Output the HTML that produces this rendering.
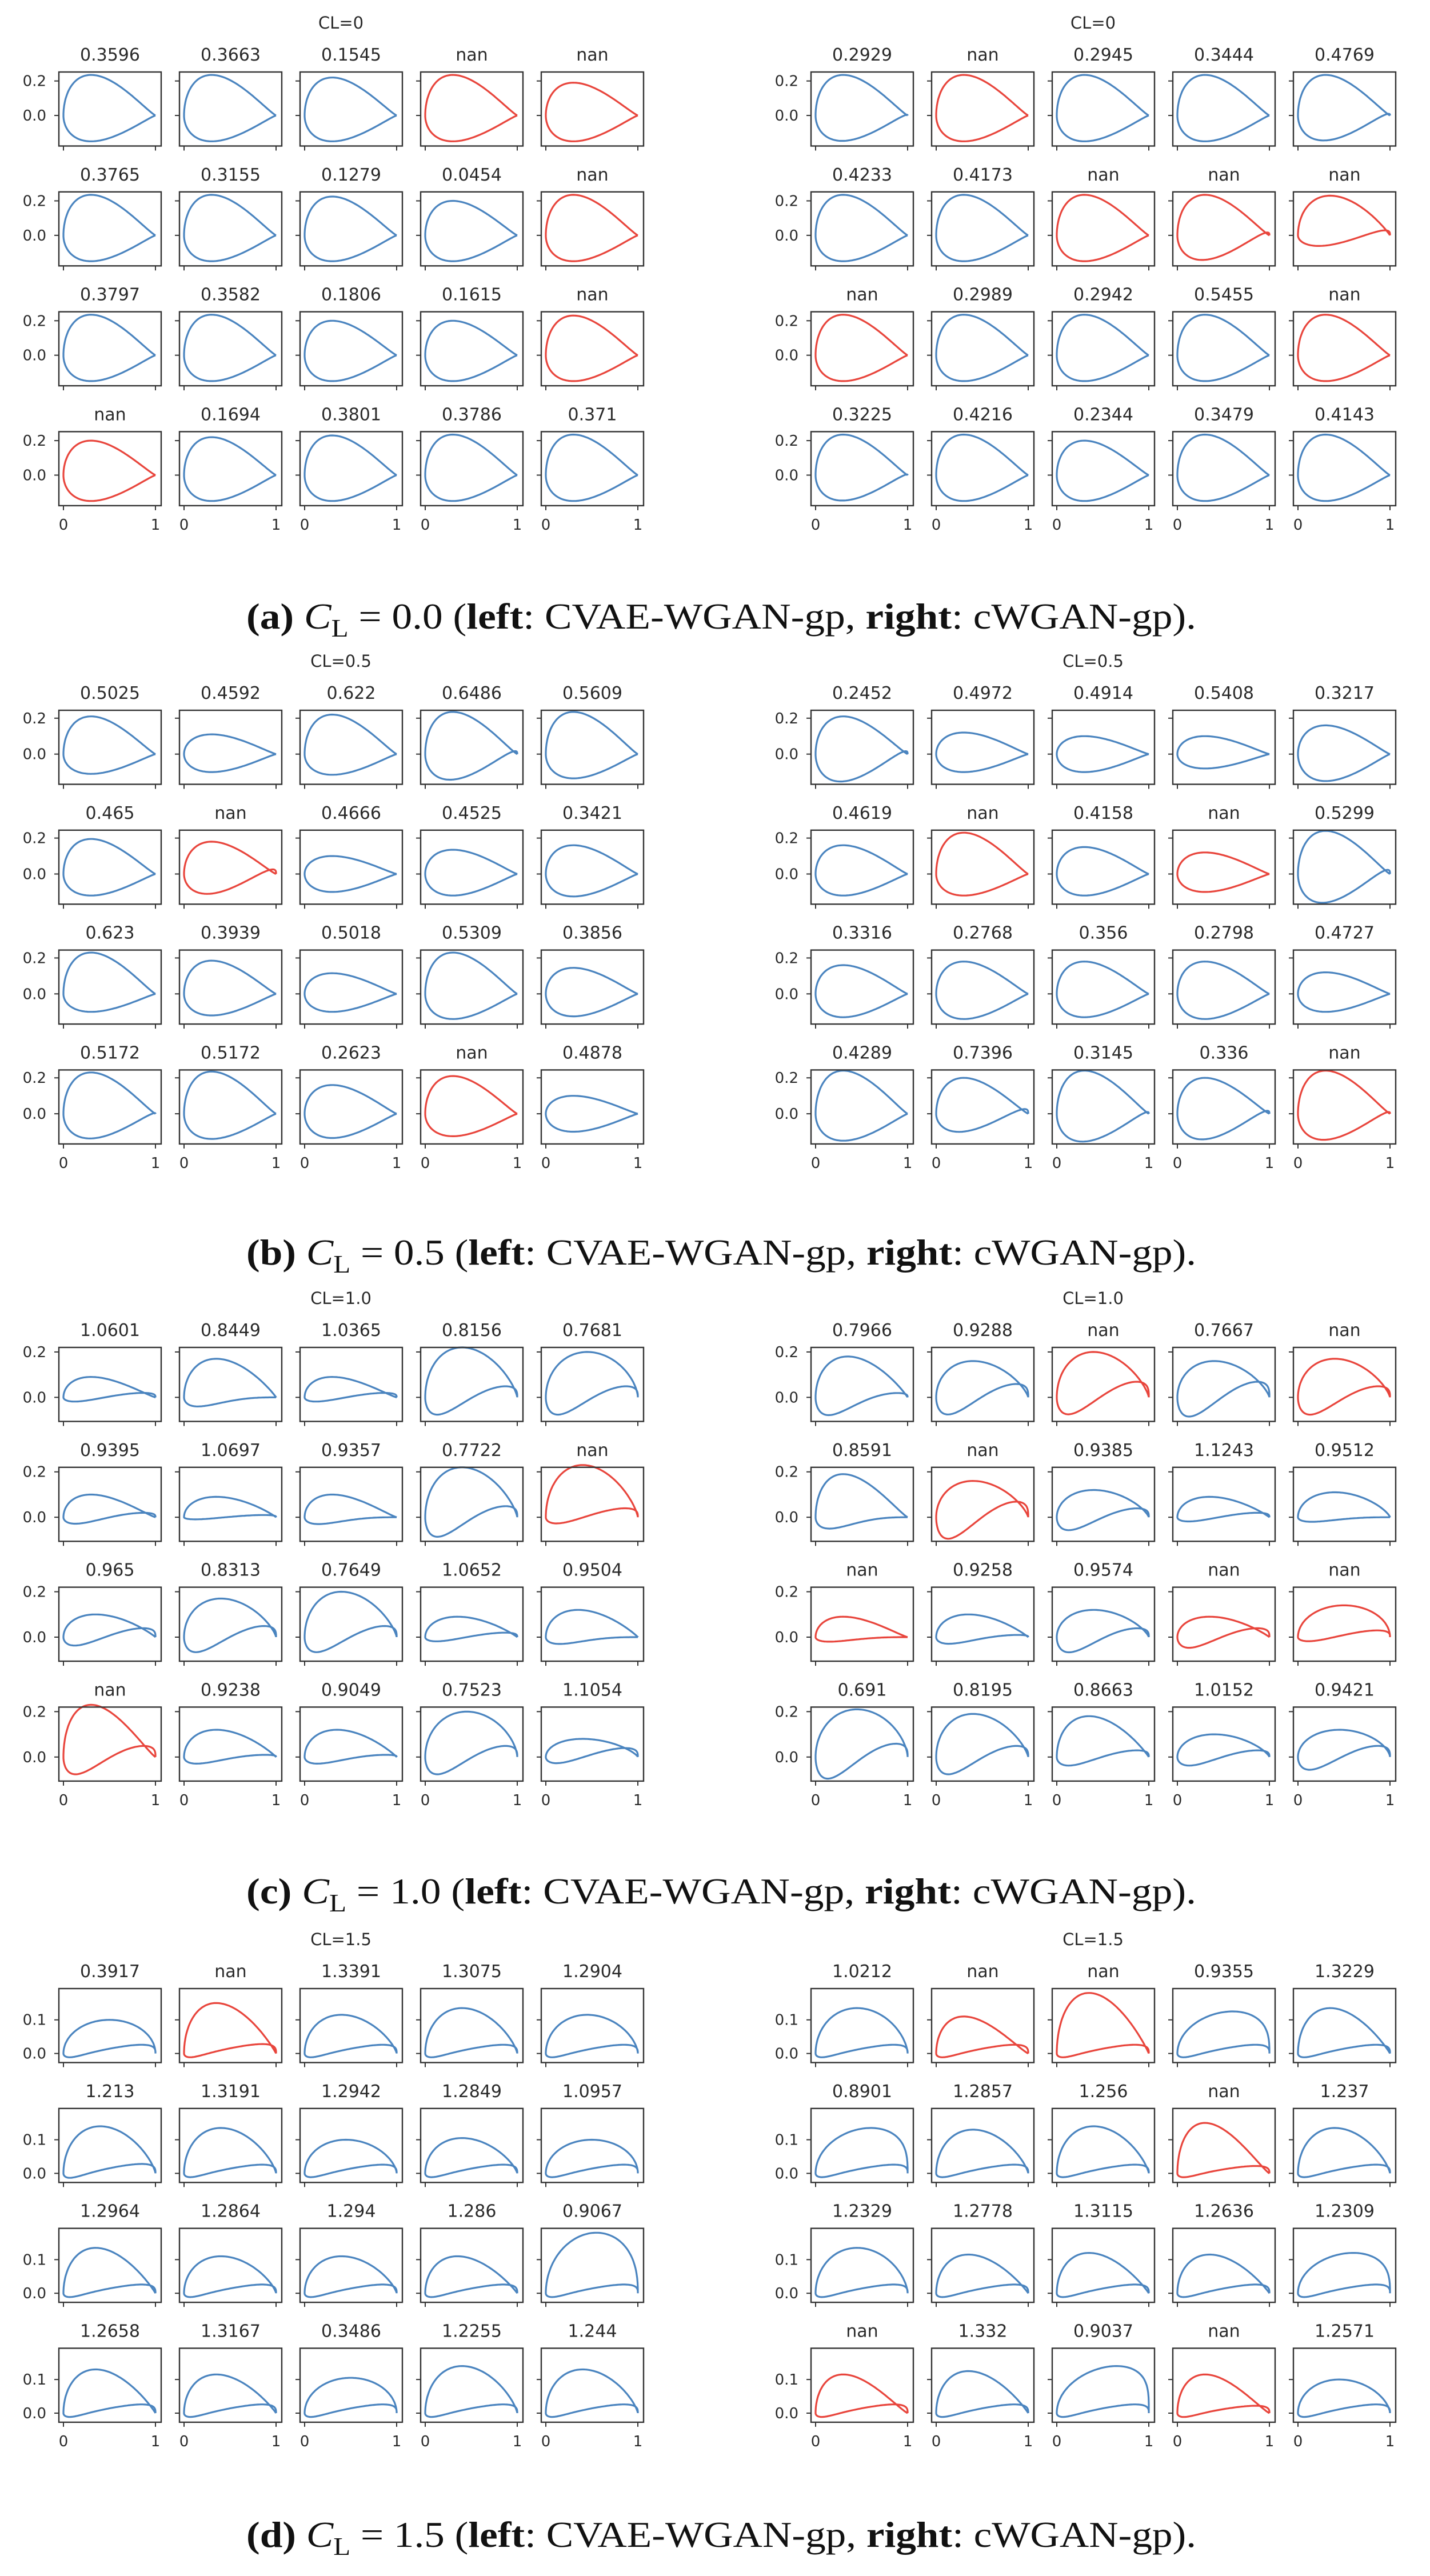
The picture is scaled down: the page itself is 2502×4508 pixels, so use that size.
<!DOCTYPE html>
<html><head><meta charset="utf-8">
<style>
html,body{margin:0;padding:0;background:#fff;}
svg{display:block;}
</style></head>
<body>
<svg id="fig" xmlns="http://www.w3.org/2000/svg" width="2502" height="4508" viewBox="0 0 2502 4508">
<rect x="0" y="0" width="2502" height="4508" fill="#fff"/>
</svg>
<script>
// ---------- data (each panel: 20 subplots, row-major, 4 rows x 5 cols) ----------
const panelNames = ["a","b","c","d"];
const clTitles = ["CL=0","CL=0.5","CL=1.0","CL=1.5"];
const clValues = ["0.0","0.5","1.0","1.5"];
const yTickVals = [[0,0.2],[0,0.2],[0,0.2],[0,0.1]];
const yTickLabels = [["0.0","0.2"],["0.0","0.2"],["0.0","0.2"],["0.0","0.1"]];
const yLims = [[-0.177,0.252],[-0.168,0.244],[-0.106,0.22],[-0.027,0.193]];
const lowerPeakX = [0.3,0.3,0.15,0.08];

// Panel (a) CL=0
const aL_titles = ["0.3596","0.3663","0.1545","nan","nan","0.3765","0.3155","0.1279","0.0454","nan","0.3797","0.3582","0.1806","0.1615","nan","nan","0.1694","0.3801","0.3786","0.371"];
const aL_upper = [0.235,0.235,0.22,0.235,0.19,0.235,0.235,0.225,0.2,0.235,0.235,0.235,0.2,0.2,0.23,0.2,0.22,0.23,0.235,0.235];
const aL_upperX = [0.3,0.3,0.3,0.3,0.3,0.3,0.3,0.3,0.3,0.3,0.3,0.3,0.3,0.3,0.3,0.3,0.3,0.3,0.3,0.3];
const aL_lower = [0.15,0.15,0.15,0.15,0.15,0.15,0.15,0.15,0.15,0.15,0.15,0.15,0.15,0.15,0.15,0.15,0.15,0.15,0.15,0.15];
const aL_camber = [0,0,0,0,0,0,0,0,0,0,0,0,0,0,0,0,0,0,0,0];
const aR_titles = ["0.2929","nan","0.2945","0.3444","0.4769","0.4233","0.4173","nan","nan","nan","nan","0.2989","0.2942","0.5455","nan","0.3225","0.4216","0.2344","0.3479","0.4143"];
const aR_upper = [0.235,0.235,0.235,0.235,0.235,0.235,0.235,0.235,0.235,0.23,0.235,0.235,0.235,0.235,0.235,0.235,0.235,0.2,0.235,0.235];
const aR_upperX = [0.3,0.3,0.3,0.3,0.3,0.3,0.3,0.3,0.3,0.35,0.3,0.3,0.3,0.3,0.3,0.3,0.3,0.3,0.3,0.3];
const aR_lower = [0.15,0.15,0.15,0.15,0.15,0.15,0.15,0.15,0.15,0.07,0.15,0.15,0.15,0.15,0.15,0.15,0.15,0.15,0.15,0.15];
const aR_camber = [0.01,0,0,0,0.02,0,0,0,0.03,0.04,0,0,0,0,0,0.01,0,0,0,0];

// Panel (b) CL=0.5
const bL_titles = ["0.5025","0.4592","0.622","0.6486","0.5609","0.465","nan","0.4666","0.4525","0.3421","0.623","0.3939","0.5018","0.5309","0.3856","0.5172","0.5172","0.2623","nan","0.4878"];
const bL_upper = [0.21,0.11,0.22,0.235,0.235,0.195,0.18,0.1,0.135,0.16,0.23,0.185,0.115,0.23,0.145,0.23,0.235,0.16,0.21,0.1];
const bL_upperX = [0.3,0.3,0.3,0.3,0.3,0.3,0.3,0.3,0.3,0.3,0.3,0.3,0.3,0.3,0.3,0.3,0.3,0.3,0.3,0.3];
const bL_lower = [0.11,0.1,0.115,0.15,0.135,0.12,0.12,0.1,0.12,0.125,0.1,0.12,0.1,0.14,0.125,0.14,0.14,0.135,0.125,0.1];
const bL_camber = [0,0,0,0.03,0,0,0.04,0,0,0,0,0,0,0,0,0.01,0,0,0,0];
const bR_titles = ["0.2452","0.4972","0.4914","0.5408","0.3217","0.4619","nan","0.4158","nan","0.5299","0.3316","0.2768","0.356","0.2798","0.4727","0.4289","0.7396","0.3145","0.336","nan"];
const bR_upper = [0.21,0.12,0.1,0.1,0.16,0.16,0.23,0.15,0.12,0.24,0.16,0.18,0.18,0.18,0.12,0.24,0.2,0.24,0.2,0.24];
const bR_upperX = [0.3,0.3,0.3,0.3,0.3,0.3,0.3,0.3,0.3,0.3,0.3,0.3,0.3,0.3,0.3,0.3,0.3,0.3,0.3,0.3];
const bR_lower = [0.16,0.1,0.1,0.08,0.15,0.12,0.12,0.12,0.1,0.17,0.13,0.14,0.13,0.14,0.1,0.15,0.11,0.16,0.15,0.15];
const bR_camber = [0.03,0,0,0,0,0,0,0,0,0.04,0,0,0,0,0,0,0.04,0.02,0.03,0.02];

// Panel (c) CL=1.0
const cL_titles = ["1.0601","0.8449","1.0365","0.8156","0.7681","0.9395","1.0697","0.9357","0.7722","nan","0.965","0.8313","0.7649","1.0652","0.9504","nan","0.9238","0.9049","0.7523","1.1054"];
const cL_upper = [0.09,0.17,0.09,0.22,0.2,0.1,0.09,0.1,0.22,0.23,0.1,0.17,0.2,0.09,0.12,0.23,0.12,0.12,0.2,0.08];
const cL_upperX = [0.3,0.35,0.3,0.4,0.45,0.3,0.35,0.3,0.4,0.4,0.35,0.4,0.4,0.35,0.35,0.3,0.35,0.35,0.45,0.4];
const cL_lower = [0.02,0.04,0.02,0.08,0.08,0.03,0.01,0.03,0.09,0.03,0.04,0.07,0.07,0.02,0.03,0.08,0.03,0.03,0.08,0.03];
const cL_camber = [0.02,0.0,0.02,0.05,0.05,0.02,0.01,0.0,0.05,0.04,0.04,0.05,0.05,0.02,0.0,0.05,0.01,0.01,0.05,0.04];
const cR_titles = ["0.7966","0.9288","nan","0.7667","nan","0.8591","nan","0.9385","1.1243","0.9512","nan","0.9258","0.9574","nan","nan","0.691","0.8195","0.8663","1.0152","0.9421"];
const cR_upper = [0.18,0.16,0.2,0.16,0.17,0.19,0.16,0.12,0.09,0.11,0.09,0.1,0.12,0.09,0.14,0.21,0.19,0.18,0.1,0.12];
const cR_upperX = [0.35,0.4,0.4,0.4,0.4,0.3,0.4,0.4,0.35,0.4,0.3,0.35,0.4,0.35,0.5,0.45,0.4,0.35,0.4,0.45];
const cR_lower = [0.08,0.08,0.08,0.09,0.08,0.05,0.1,0.06,0.02,0.02,0.02,0.03,0.07,0.05,0.02,0.1,0.08,0.04,0.04,0.06];
const cR_camber = [0.02,0.06,0.07,0.07,0.05,0.0,0.07,0.04,0.02,0.0,0.0,0.01,0.04,0.04,0.03,0.06,0.05,0.03,0.03,0.05];

// Panel (d) CL=1.5
const dL_titles = ["0.3917","nan","1.3391","1.3075","1.2904","1.213","1.3191","1.2942","1.2849","1.0957","1.2964","1.2864","1.294","1.286","0.9067","1.2658","1.3167","0.3486","1.2255","1.244"];
const dL_upper = [0.1,0.15,0.115,0.135,0.115,0.14,0.135,0.1,0.105,0.1,0.135,0.11,0.11,0.11,0.18,0.13,0.115,0.105,0.14,0.13];
const dL_upperX = [0.5,0.35,0.4,0.4,0.45,0.4,0.4,0.45,0.4,0.5,0.35,0.4,0.4,0.35,0.55,0.35,0.35,0.5,0.4,0.4];
const dL_lower = [0.012,0.012,0.012,0.012,0.012,0.014,0.012,0.012,0.012,0.012,0.012,0.012,0.012,0.012,0.012,0.012,0.012,0.012,0.012,0.012];
const dL_camber = [0.026,0.028,0.026,0.026,0.026,0.028,0.026,0.026,0.026,0.026,0.026,0.026,0.026,0.026,0.026,0.026,0.026,0.026,0.026,0.026];
const dR_titles = ["1.0212","nan","nan","0.9355","1.3229","0.8901","1.2857","1.256","nan","1.237","1.2329","1.2778","1.3115","1.2636","1.2309","nan","1.332","0.9037","nan","1.2571"];
const dR_upper = [0.135,0.11,0.18,0.125,0.135,0.135,0.13,0.14,0.15,0.135,0.135,0.115,0.12,0.115,0.12,0.115,0.125,0.14,0.115,0.1];
const dR_upperX = [0.45,0.3,0.35,0.6,0.35,0.6,0.4,0.4,0.3,0.4,0.45,0.35,0.35,0.35,0.6,0.3,0.35,0.65,0.3,0.45];
const dR_lower = [0.012,0.012,0.012,0.012,0.012,0.012,0.012,0.012,0.012,0.012,0.012,0.012,0.012,0.012,0.012,0.012,0.012,0.012,0.012,0.012];
const dR_camber = [0.026,0.026,0.026,0.026,0.026,0.026,0.026,0.026,0.022,0.026,0.026,0.026,0.026,0.026,0.026,0.026,0.026,0.026,0.022,0.026];

const panelData = {
  a:[[aL_titles,aL_upper,aL_upperX,aL_lower,aL_camber],[aR_titles,aR_upper,aR_upperX,aR_lower,aR_camber]],
  b:[[bL_titles,bL_upper,bL_upperX,bL_lower,bL_camber],[bR_titles,bR_upper,bR_upperX,bR_lower,bR_camber]],
  c:[[cL_titles,cL_upper,cL_upperX,cL_lower,cL_camber],[cR_titles,cR_upper,cR_upperX,cR_lower,cR_camber]],
  d:[[dL_titles,dL_upper,dL_upperX,dL_lower,dL_camber],[dR_titles,dR_upper,dR_upperX,dR_lower,dR_camber]]
};

// ---------- layout ----------
const NS = "http://www.w3.org/2000/svg";
const svg = document.getElementById("fig");
const panelTops = [126, 1243, 2358, 3480];
const captionBase = [1100, 2213, 3331, 4457];
const sideLeft = [103, 1419];
const colPitch = 211, rowPitch = 209.8, boxW = 179, boxH = 129.5;
const BLUE = "#4a84bf", RED = "#e8453c", FRAME = "#333", TXT = "#2a2a2a";

function mk(tag, attrs, parent) {
  const el = document.createElementNS(NS, tag);
  for (const k in attrs) el.setAttribute(k, attrs[k]);
  (parent || svg).appendChild(el);
  return el;
}
function shapeS(x, xp) {
  const k = (1 - xp) / (2 * xp);
  const f = v => Math.sqrt(Math.max(v, 0)) * Math.pow(Math.max(1 - v, 0), k);
  return f(x) / f(xp);
}
function shapeR(x) {
  const f = v => Math.pow(v, 1.7) * Math.pow(Math.max(1 - v, 0), 0.3);
  return f(x) / f(0.85);
}

panelNames.forEach((pn, p) => {
  const g = mk("g", {});
  
  
  const [ymin, ymax] = yLims[p];
  for (let s = 0; s < 2; s++) {
    const [titles, up, upX, lo, cam] = panelData[pn][s];
    const side = mk("g", {}, g);
    
    
    // CL suptitle
    const cx = sideLeft[s] + 2 * colPitch + boxW / 2 - 18;
    const st = mk("text", {x: cx, y: panelTops[p] - 76, "text-anchor": "middle",
      "font-family": "DejaVu Sans, sans-serif", "font-size": 29, fill: TXT}, side);
    st.textContent = clTitles[p];
    
    
    for (let i = 0; i < 20; i++) {
      const r = Math.floor(i / 5), c = i % 5;
      const L = sideLeft[s] + c * colPitch;
      const T = panelTops[p] + r * rowPitch;
      const X = v => L + 8 + v * 161;
      const Y = v => T + (ymax - v) / (ymax - ymin) * boxH;
      const sub = mk("g", {}, side);
      
      
      const tt = mk("text", {x: L + boxW / 2, y: T - 20, "text-anchor": "middle",
        "font-family": "DejaVu Sans, sans-serif", "font-size": 30, fill: TXT}, sub);
      tt.textContent = titles[i];
      
      
      // airfoil
      const n = 90, pts = [];
      for (let j = 0; j <= n; j++) {
        const x = 0.5 * (1 + Math.cos(Math.PI * j / n)); // 1 -> 0
        pts.push([x, up[i] * shapeS(x, upX[i])]);
      }
      for (let j = 1; j <= n; j++) {
        const x = 0.5 * (1 - Math.cos(Math.PI * j / n)); // 0 -> 1
        pts.push([x, -lo[i] * shapeS(x, lowerPeakX[p]) + cam[i] * shapeR(x)]);
      }
      const d = pts.map((q, k) => (k ? "L" : "M") + X(q[0]).toFixed(1) + " " + Y(q[1]).toFixed(1)).join(" ");
      const path = mk("path", {d: d, fill: "none", stroke: titles[i] === "nan" ? RED : BLUE,
        "stroke-width": 3.2, "stroke-linejoin": "round"}, sub);
      
      
      // frame
      const fr = mk("rect", {x: L, y: T, width: boxW, height: boxH, fill: "none", stroke: FRAME, "stroke-width": 2.4}, sub);
      
      
      // y ticks
      yTickVals[p].forEach((v, k) => {
        mk("line", {x1: L - 8, x2: L, y1: Y(v), y2: Y(v), stroke: FRAME, "stroke-width": 2}, sub);
        if (c === 0) {
          const yl = mk("text", {x: L - 22, y: Y(v) + 9, "text-anchor": "end",
            "font-family": "DejaVu Sans, sans-serif", "font-size": 26, fill: TXT}, sub);
          yl.textContent = yTickLabels[p][k];
          
          
        }
      });
      // x ticks
      [0, 1].forEach(v => {
        mk("line", {x1: X(v), x2: X(v), y1: T + boxH, y2: T + boxH + 8, stroke: FRAME, "stroke-width": 2}, sub);
        if (r === 3) {
          const xl = mk("text", {x: X(v), y: T + boxH + 42, "text-anchor": "middle",
            "font-family": "DejaVu Sans, sans-serif", "font-size": 26, fill: TXT}, sub);
          xl.textContent = String(v);
          
          
        }
      });
    }
  }
  // caption
  const cap = mk("text", {x: 431, y: captionBase[p], "font-family": "Liberation Serif, serif",
    "font-size": 64, fill: "#111", textLength: 1662, lengthAdjust: "spacingAndGlyphs"}, g);
  
  
  cap.innerHTML = '<tspan font-weight="bold">(' + pn + ')</tspan> <tspan font-style="italic">C</tspan><tspan font-size="44" dy="14">L</tspan><tspan dy="-14"> = ' + clValues[p] +
    ' (</tspan><tspan font-weight="bold">left</tspan>: CVAE-WGAN-gp, <tspan font-weight="bold">right</tspan>: cWGAN-gp).';
});
</script>
</body></html>
